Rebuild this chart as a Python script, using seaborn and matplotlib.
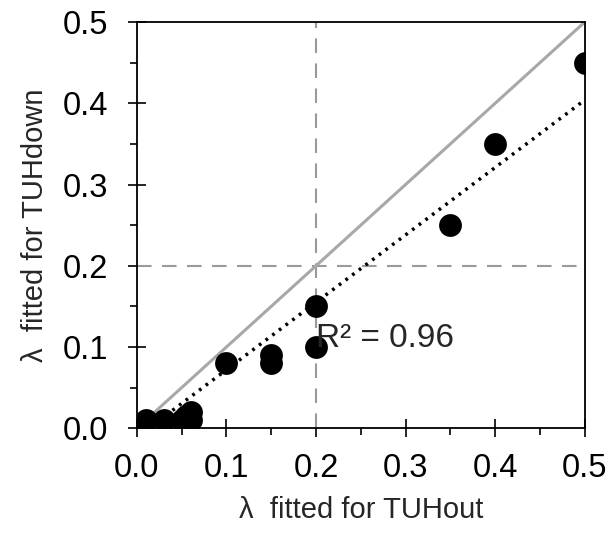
import numpy as np
import pandas as pd
import matplotlib
matplotlib.use("Agg")
import matplotlib.pyplot as plt
import seaborn as sns
from matplotlib.ticker import MultipleLocator

# Fitted lambda values: TUHout (x) vs TUHdown (y)
lam_out = [0.01, 0.03, 0.05, 0.055, 0.06, 0.06, 0.10, 0.15, 0.15, 0.20, 0.20, 0.35, 0.40, 0.50]
lam_down = [0.01, 0.01, 0.01, 0.015, 0.02, 0.01, 0.08, 0.09, 0.08, 0.15, 0.10, 0.25, 0.35, 0.45]
# linear trendline as shown in the chart
trend_slope = 0.83
trend_intercept = -0.011
r2_label = "R² = 0.96"
ticks = [0.0, 0.1, 0.2, 0.3, 0.4, 0.5]

df = pd.DataFrame({"out": lam_out, "down": lam_down})

sns.set_style("ticks")
plt.rcParams['font.family'] = ['Liberation Sans', 'DejaVu Sans']

fig = plt.figure(figsize=(6.11, 5.38), dpi=100)
ax = fig.add_axes([0.224, 0.204, 0.733, 0.755])

# reference lines
ax.axvline(0.2, color='#9a9a9a', lw=1.5, dashes=(7, 5), zorder=1)
ax.axhline(0.2, color='#9a9a9a', lw=1.5, dashes=(7, 5), zorder=1)
ax.plot([0, 0.5], [0, 0.5], color='#a8a8a8', lw=2.2, zorder=2)

# trendline over the data range
xr = np.array([min(lam_out), max(lam_out)])
ax.plot(xr, trend_slope * xr + trend_intercept, color='black', lw=2.5,
        linestyle=(0, (0.8, 1.6)), zorder=3)

sns.scatterplot(data=df, x="out", y="down", ax=ax, color='black', s=270,
                edgecolor='black', linewidth=0, zorder=4, legend=False)

ax.text(0.2, 0.11, r2_label, fontsize=24, va='center', ha='left', zorder=5)

ax.set_xlim(0, 0.5)
ax.set_ylim(0, 0.5)
ax.set_xticks(ticks)
ax.set_yticks(ticks)
ax.set_xticklabels([f"{t:.1f}" for t in ticks])
ax.set_yticklabels([f"{t:.1f}" for t in ticks])
ax.xaxis.set_minor_locator(MultipleLocator(0.05))
ax.yaxis.set_minor_locator(MultipleLocator(0.05))
ax.tick_params(which='major', direction='inout', length=13, width=1.2, labelsize=23.5,
               color='black', labelcolor='black')
ax.tick_params(axis='y', which='major', pad=14)
ax.tick_params(axis='x', which='major', pad=11)
ax.tick_params(which='minor', direction='out', length=5, width=1.2, color='black')
for sp in ax.spines.values():
    sp.set_visible(True)
    sp.set_color('black')
    sp.set_linewidth(1.3)

ax.set_xlabel("λ  fitted for TUHout", fontsize=21, labelpad=9)
ax.set_ylabel("λ  fitted for TUHdown", fontsize=21, labelpad=10)

fig.savefig("out.png", dpi=100)
